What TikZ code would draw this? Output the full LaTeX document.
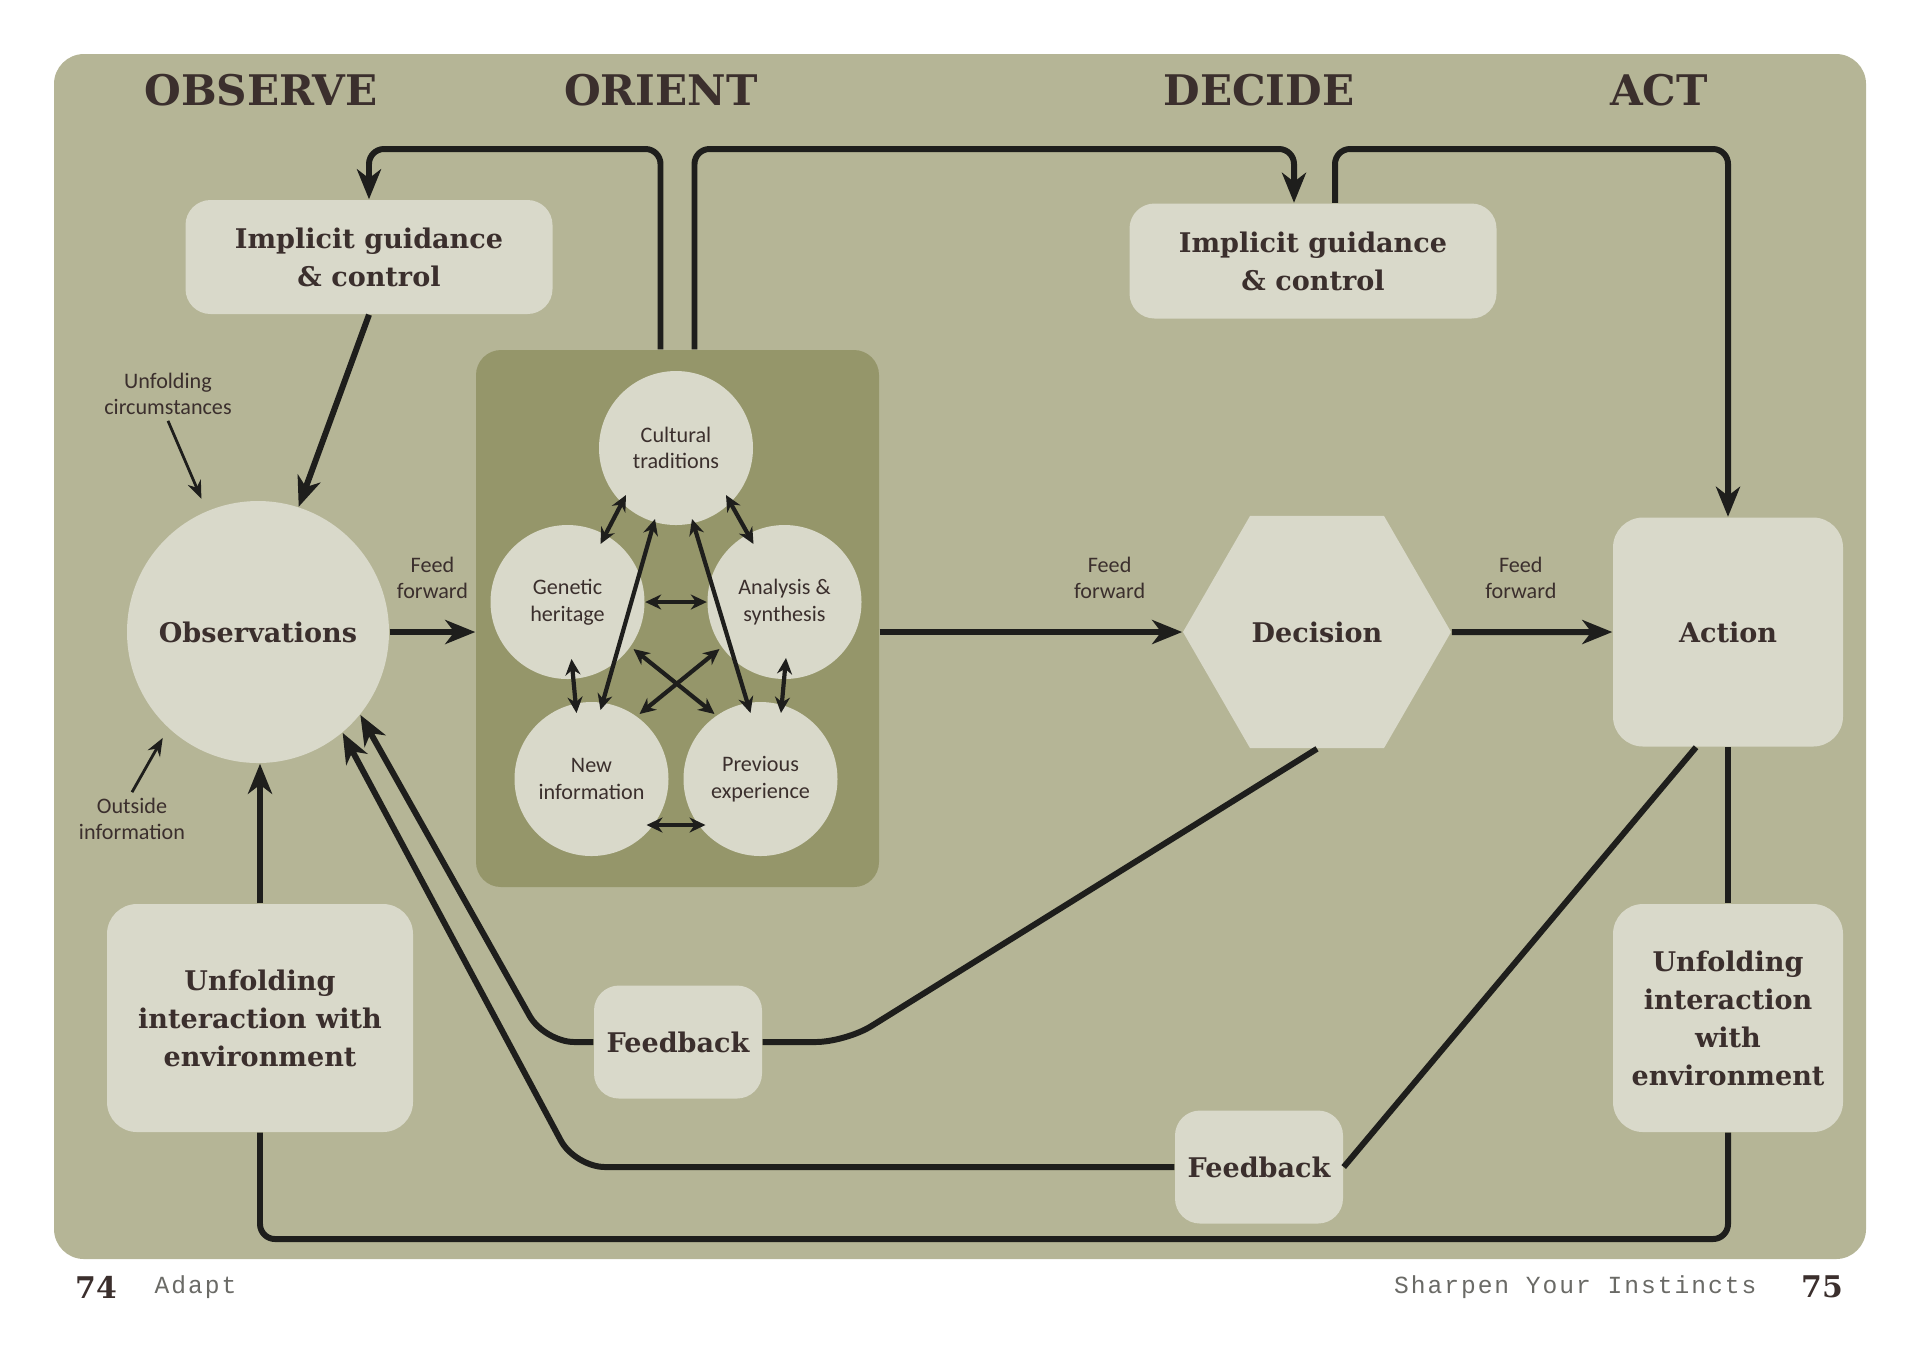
\documentclass[tikz,border=0pt]{standalone}
\usepackage{fontspec}
\usetikzlibrary{positioning, calc, arrows.meta, shapes.geometric}
\newfontfamily\slabfont{DejaVu Serif}
\newfontfamily\lblfont{Carlito}
\newfontfamily\footfont[LetterSpace=8]{Liberation Mono}
\definecolor{bgkhaki}{HTML}{B5B596}
\definecolor{nodefill}{HTML}{D9D9CA}
\definecolor{orientfill}{HTML}{95966A}
\definecolor{txtbrown}{HTML}{3B2F2D}
\definecolor{linedark}{HTML}{1E1E1C}
\definecolor{footgray}{HTML}{6A6A66}
\tikzset{
  pale/.style={fill=nodefill, text=txtbrown, inner sep=0pt, align=center},
  slabtext/.style={font=\slabfont\bfseries\fontsize{7.7}{10.8}\selectfont},
  panel/.style={pale, slabtext, rectangle, rounded corners=2.5mm},
  bubble/.style={pale, circle, minimum size=1.54cm, font=\lblfont\fontsize{6.3}{7.6}\selectfont},
  lbl/.style={text=txtbrown, align=center, inner sep=0.5mm, font=\lblfont\fontsize{6.3}{7.6}\selectfont},
  phase/.style={text=txtbrown, font=\slabfont\bfseries\fontsize{12}{14}\selectfont},
  wire/.style={draw=linedark, line width=1.7pt},
  flow/.style={wire, -{Stealth[length=3mm, width=2.4mm, inset=0.9mm]}},
  twoway/.style={draw=linedark, line width=1.2pt, {Stealth[length=1.6mm, width=1.5mm]}-{Stealth[length=1.6mm, width=1.5mm]}},
  hint/.style={draw=linedark, line width=0.8pt, -{Stealth[length=1.8mm, width=1.4mm]}},
  pageno/.style={text=txtbrown, inner sep=0pt, font=\slabfont\bfseries\fontsize{8.5}{10}\selectfont},
  running/.style={text=footgray, inner sep=0pt, font=\footfont\fontsize{7}{8}\selectfont}
}
\begin{document}
\begin{tikzpicture}[y=-1cm]
        \useasboundingbox (0,0) rectangle (19.2,13.44);
        %sfondo
        \fill[bgkhaki, rounded corners=3mm] (0.54,0.54) rectangle (18.66,12.59);
        %fasi
        \node[phase] (tobs) at (2.61,0.906) {OBSERVE};
        \node[phase] (tori) at (6.61,0.906) {ORIENT};
        \node[phase] (tdec) at (12.59,0.906) {DECIDE};
        \node[phase] (tact) at (16.59,0.906) {ACT};
        %guida implicita
        \node[panel, minimum width=3.67cm, minimum height=1.14cm] (igl) at (3.69,2.57) {Implicit guidance\\\& control};
        \node[panel, minimum width=3.67cm, minimum height=1.15cm] (igr) at (13.13,2.61) {Implicit guidance\\\& control};
        %osservazioni
        \node[pale, slabtext, circle, minimum size=2.62cm] (obs) at (2.58,6.32) {Observations};
        %orientamento
        \node[fill=orientfill, rounded corners=2.5mm, minimum width=4.03cm, minimum height=5.37cm, inner sep=0pt] (orient) at (6.775,6.185) {};
        \node[bubble] (cult) at (6.76,4.48) {Cultural\\traditions};
        \node[bubble] (gen) at (5.675,6.02) {Genetic\\heritage};
        \node[bubble] (anal) at (7.845,6.02) {Analysis \&\\synthesis};
        \node[bubble] (newinfo) at (5.915,7.79) {New\\information};
        \node[bubble] (prev) at (7.605,7.79) {Previous\\experience};
        %decisione e azione
        \node[pale, slabtext, regular polygon, regular polygon sides=6, minimum size=2.68cm] (dec) at (13.17,6.32) {Decision};
        \node[panel, rounded corners=3mm, minimum width=2.3cm, minimum height=2.29cm] (act) at (17.28,6.32) {Action};
        %interazione con ambiente
        \node[panel, rounded corners=3mm, minimum width=3.06cm, minimum height=2.28cm] (uil) at (2.60,10.18) {Unfolding\\interaction with\\environment};
        \node[panel, rounded corners=3mm, minimum width=2.3cm, minimum height=2.28cm] (uir) at (17.28,10.18) {Unfolding\\interaction\\with\\environment};
        %feedback
        \node[panel, minimum width=1.68cm, minimum height=1.13cm] (fbl) at (6.78,10.42) {Feedback};
        \node[panel, minimum width=1.68cm, minimum height=1.13cm] (fbr) at (12.59,11.67) {Feedback};
        %etichette esterne
        \node[lbl] (circ) at (1.68,3.94) {Unfolding\\circumstances};
        \node[lbl] (outinfo) at (1.32,8.19) {Outside\\information};
        \coordinate (toprow) at (0,1.49);
        \coordinate (botrow) at (0,12.39);
        %feed forward
        \draw[flow] (obs.east) -- (obs.east -| orient.west) node[lbl, midway, above=2.5mm] {Feed\\forward};
        \draw[flow] (dec.west -| orient.east) -- (dec.west) node[lbl, pos=0.76, above=2.5mm] {Feed\\forward};
        \draw[flow] (dec.east) -- (act.west) node[lbl, pos=0.43, above=2.5mm] {Feed\\forward};
        %anelli superiori
        \draw[flow, rounded corners=1.5mm] ([xshift=-1.7mm]orient.north) |- (igl.north |- toprow) -- (igl.north);
        \draw[flow, rounded corners=1.5mm] ([xshift=1.7mm]orient.north) |- ([xshift=-1.9mm]igr.north |- toprow) -- ([xshift=-1.9mm]igr.north);
        \draw[flow, rounded corners=1.5mm] ([xshift=2.2mm]igr.north) |- (act.north |- toprow) -- (act.north);
        \draw[flow] (igl.south) -- (obs.72);
        %informazioni esterne
        \draw[hint, shorten >=1.3mm] (circ.south) -- (obs.113);
        \draw[hint, shorten >=1.1mm] (outinfo.north) -- (obs.-133);
        %frecce interne
        \draw[twoway] ($(cult)+(-0.50,0.47)$) -- ($(gen)+(0.33,-0.58)$);
        \draw[twoway] ($(cult)+(0.50,0.47)$) -- ($(anal)+(-0.31,-0.58)$);
        \draw[twoway] (gen.east) -- (anal.west);
        \draw[twoway] ($(gen)+(0.04,0.57)$) -- ($(newinfo)+(-0.15,-0.66)$);
        \draw[twoway] ($(anal)+(0.015,0.56)$) -- ($(prev)+(0.205,-0.66)$);
        \draw[twoway] ($(newinfo)+(0.55,0.46)$) -- ($(prev)+(-0.55,0.46)$);
        \draw[twoway] ($(cult)+(-0.21,0.71)$) -- ($(newinfo)+(0.09,-0.69)$);
        \draw[twoway] ($(cult)+(0.16,0.71)$) -- ($(prev)+(-0.10,-0.66)$);
        \draw[twoway] ($(gen)+(0.66,0.47)$) -- ($(prev)+(-0.46,-0.65)$);
        \draw[twoway] ($(anal)+(-0.65,0.47)$) -- ($(newinfo)+(0.48,-0.65)$);
        %anello inferiore
        \draw[flow] (uil.north) -- (uil.north |- obs.south);
        \draw[wire] (act.south) -- (uir.north);
        \draw[wire, rounded corners=1.5mm] (uil.south) |- (uir.south |- botrow) -- (uir.south);
        %ritorni
        \draw[wire, rounded corners=3mm] (dec.south) -- ($(fbl.east)+(0.83,0)$) -- (fbl.east);
        \draw[flow, rounded corners=3mm] (fbl.west) -- ++(-0.49,0) -- (obs.-39);
        \draw[wire] ([xshift=-3.2mm]act.south) -- (fbr.east);
        \draw[flow, rounded corners=3mm] (fbr.west) -- (fbr.west -| 5.75,0) -- (obs.-50);
        %pie di pagina
        \node[pageno] (pgl) at (0.96,12.87) {74};
        \node[running, anchor=west] (bookl) at (1.54,12.87) {Adapt};
        \node[running, anchor=east] (bookr) at (17.57,12.87) {Sharpen Your Instincts};
        \node[pageno] (pgr) at (18.22,12.87) {75};
    \end{tikzpicture}
\end{document}
